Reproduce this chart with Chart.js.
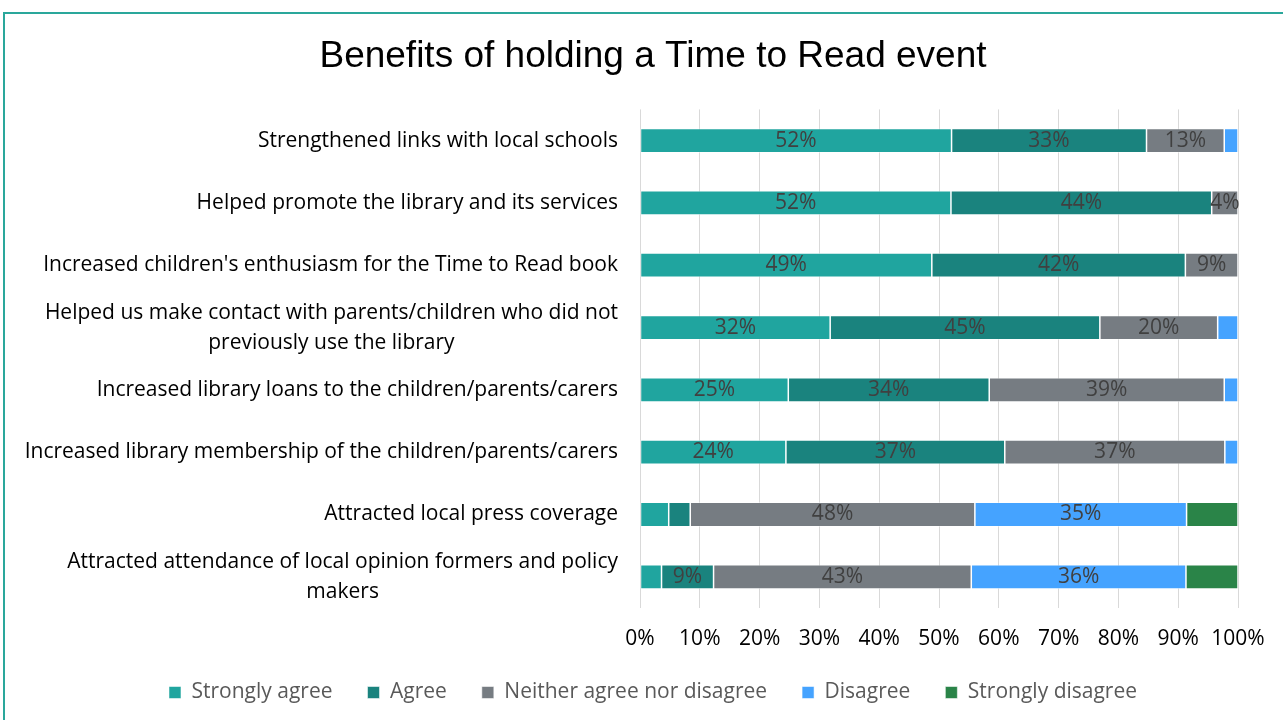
<!DOCTYPE html>
<html>
<head>
<meta charset="utf-8">
<script src="https://cdn.jsdelivr.net/npm/chart.js@4"></script>
<style>
  body { margin: 0; background: #fff; overflow: hidden; }
  #frame {
    position: absolute; left: 3px; top: 12px;
    width: 1300px; height: 730px;
    border: 2px solid #2aa79b; box-sizing: border-box; background: #fff;
  }
</style>
</head>
<body>
<div id="frame"><canvas id="chart" width="1296" height="726"></canvas></div>
<script>
/* global Chart */

const statements = [
  ['Strengthened links with local schools'],
  ['Helped promote the library and its services'],
  ["Increased children's enthusiasm for the Time to Read book"],
  ['Helped us make contact with parents/children who did not', 'previously use the library'],
  ['Increased library loans to the children/parents/carers'],
  ['Increased library membership of the children/parents/carers'],
  ['Attracted local press coverage'],
  ['Attracted attendance of local opinion formers and policy', 'makers'],
];

const stronglyAgree = [52.1, 52.0, 48.8, 31.8, 24.8, 24.4, 4.8, 3.6];
const agree = [32.6, 43.6, 42.4, 45.1, 33.6, 36.6, 3.6, 8.7];
const neither = [13.0, 4.4, 8.8, 19.7, 39.3, 36.8, 47.6, 43.1];
const disagree = [2.3, 0, 0, 3.4, 2.3, 2.2, 35.4, 35.9];
const stronglyDisagree = [0, 0, 0, 0, 0, 0, 8.6, 8.7];

const xTicks = ['0%', '10%', '20%', '30%', '40%', '50%', '60%', '70%', '80%', '90%', '100%'];

// smallest value that still gets a label, per series (Excel labels were trimmed)
const labelMin = [5, 4, 4, 4, 101];

const font = '"Open Sans", "Noto Sans", sans-serif';

// y labels: block right aligned, wrapped lines centred in the block (Excel style)
const yLabelPlugin = {
  id: 'yLabels',
  afterDraw(chart) {
    const { ctx } = chart;
    const yScale = chart.scales.y;
    const right = chart.chartArea.left - 22;
    ctx.save();
    ctx.font = '21px ' + font;
    ctx.fillStyle = '#000';
    ctx.textBaseline = 'middle';
    ctx.textAlign = 'center';
    statements.forEach((lines, i) => {
      const y = yScale.getPixelForValue(i);
      const w = Math.max(...lines.map((l) => ctx.measureText(l).width));
      const cx = right - w / 2;
      const lh = 30;
      lines.forEach((line, j) => {
        ctx.fillText(line, cx, y + (j - (lines.length - 1) / 2) * lh);
      });
    });
    ctx.restore();
  },
};

const valueLabelPlugin = {
  id: 'valueLabels',
  afterDatasetsDraw(chart) {
    const { ctx } = chart;
    ctx.save();
    ctx.font = '21px ' + font;
    ctx.fillStyle = '#404040';
    ctx.textAlign = 'center';
    ctx.textBaseline = 'middle';
    chart.data.datasets.forEach((ds, di) => {
      chart.getDatasetMeta(di).data.forEach((bar, i) => {
        const v = ds.data[i];
        if (v < labelMin[di]) return;
        const x = (bar.x + bar.base) / 2;
        ctx.fillText(Math.round(v) + '%', x, bar.y);
      });
    });
    ctx.restore();
  },
};

const ctx = document.getElementById('chart');
new Chart(ctx, {
  type: 'bar',
  data: {
    labels: statements.map((l) => l.join(' ')),
    datasets: [
      { label: 'Strongly agree', data: stronglyAgree, backgroundColor: '#20a59f' },
      { label: 'Agree', data: agree, backgroundColor: '#1a837e' },
      { label: 'Neither agree nor disagree', data: neither, backgroundColor: '#767c82' },
      { label: 'Disagree', data: disagree, backgroundColor: '#45a3ff' },
      { label: 'Strongly disagree', data: stronglyDisagree, backgroundColor: '#2a8448' },
    ],
  },
  options: {
    indexAxis: 'y',
    responsive: false,
    animation: false,
    datasets: {
      bar: {
        categoryPercentage: 1,
        barPercentage: 0.39,
        borderColor: 'rgba(255,255,255,0.7)',
        borderWidth: 0.75,
        borderSkipped: false,
      },
    },
    layout: { padding: { left: 0, right: 0, top: 0, bottom: 27 } },
    scales: {
      x: {
        stacked: true,
        min: 0,
        max: 100,
        grid: { color: '#d9d9d9', lineWidth: 1, drawTicks: false },
        border: { display: false },
        ticks: {
          stepSize: 10,
          padding: 18,
          color: '#000',
          font: { family: font, size: 21 },
          callback: (v, i) => xTicks[i],
        },
        afterFit(scale) { scale.height = 39; },
      },
      y: {
        stacked: true,
        grid: { display: false },
        border: { display: false },
        ticks: { display: false },
        afterFit(scale) { scale.width = 635; },
      },
      // empty right-hand gutter so the title and legend stay centred on the frame
      gutter: {
        type: 'category',
        axis: 'y',
        position: 'right',
        grid: { display: false },
        border: { display: false },
        ticks: { display: false },
        afterFit(scale) { scale.width = 63; },
      },
    },
    plugins: {
      title: {
        display: true,
        text: 'Benefits of holding a Time to Read event',
        color: '#000',
        font: { family: '"Liberation Sans", Arial, sans-serif', size: 37, weight: 'normal' },
        padding: { top: 21, bottom: 30 },
      },
      legend: {
        position: 'bottom',
        labels: {
          color: '#595959',
          font: { family: font, size: 21 },
          boxWidth: 12,
          boxHeight: 12,
          padding: 35,
        },
      },
      tooltip: { enabled: false },
    },
  },
  plugins: [yLabelPlugin, valueLabelPlugin],
});
</script>
</body>
</html>
